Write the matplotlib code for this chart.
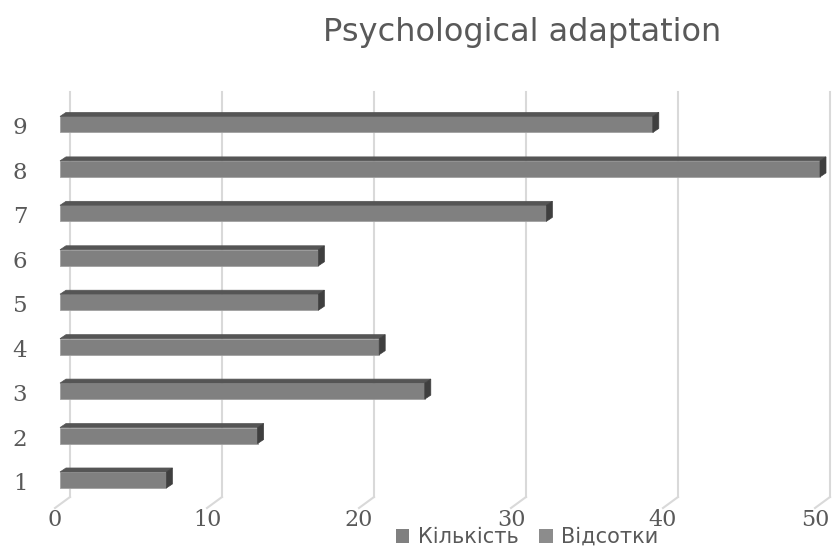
import matplotlib.pyplot as plt
from matplotlib.patches import Polygon, Patch

categories = [1, 2, 3, 4, 5, 6, 7, 8, 9]
counts = [7, 13, 24, 21, 17, 17, 32, 50, 39]
series_names = ["Кількість", "Відсотки"]
xticks = [0, 10, 20, 30, 40, 50]
title = "Psychological adaptation"

FRONT = "#808080"
TOP = "#555555"
SIDE = "#3f3f3f"
GRID = "#d9d9d9"
TEXT = "#595959"

W, H = 834, 550
fig = plt.figure(figsize=(W / 100, H / 100), dpi=100)
ax = fig.add_axes([60 / W, 1 - 497 / H, 760 / W, 405 / H])
ax.set_xlim(0, 50)
ax.set_ylim(0.617, 9.73)
ax.axis("off")

# pixel -> data unit conversions for the fake 3d depth
px_x = 760 / 50
px_y = 405 / (9.73 - 0.617)
bar_dx, bar_dy = 6 / px_x, 4 / px_y
back_dx = 10 / px_x
floor_dx, floor_dy = -5 / px_x, -11 / px_y
y0 = 0.617

# back wall gridlines + floor lines
for v in xticks:
    ax.plot([v + back_dx, v + back_dx], [y0, 9.73], color=GRID, lw=1.5, clip_on=False, zorder=1)
    ax.plot([v + back_dx, v + floor_dx], [y0, y0 + floor_dy], color=GRID, lw=1.5,
            clip_on=False, zorder=1)
    ax.text(v + floor_dx, y0 - 23 / px_y, str(v), ha="center", va="center",
            fontsize=16, family="DejaVu Serif", color=TEXT, clip_on=False, zorder=2)

h = 16 / px_y
bars = ax.barh(categories, counts, height=h, color=FRONT, edgecolor="#a0a0a0", lw=0.6, zorder=3)
for b in bars:
    b.set_clip_on(False)
for c, v in zip(categories, counts):
    top = c + h / 2
    bot = c - h / 2
    ax.add_patch(Polygon([(0, top), (v, top), (v + bar_dx, top + bar_dy), (bar_dx, top + bar_dy)],
                         closed=True, facecolor=TOP, edgecolor=TOP, lw=0.5, zorder=3, clip_on=False))
    ax.add_patch(Polygon([(v, bot), (v, top), (v + bar_dx, top + bar_dy), (v + bar_dx, bot + bar_dy)],
                         closed=True, facecolor=SIDE, edgecolor=SIDE, lw=0.5, zorder=3, clip_on=False))
    ax.text(-40 / px_x, c - 4 / px_y, str(c), ha="center", va="center",
            fontsize=16.5, family="DejaVu Serif", color=TEXT, clip_on=False)

fig.text(522 / W, 1 - 33 / H, title, ha="center", va="center", fontsize=23, color=TEXT)

handles = [Patch(facecolor=FRONT, edgecolor="none"), Patch(facecolor="#8c8c8c", edgecolor="none")]
leg = fig.legend(handles, series_names, loc="center", bbox_to_anchor=(527 / W, 1 - 537 / H), ncol=2,
                 frameon=False, handlelength=0.65, handleheight=0.65, columnspacing=1.0,
                 handletextpad=0.4, fontsize=15, labelcolor=TEXT)
leg.set_zorder(5)

fig.savefig("out.png", dpi=100)
